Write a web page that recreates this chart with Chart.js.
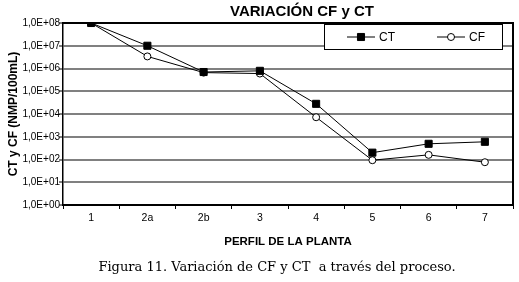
<!DOCTYPE html>
<html>
<head>
<meta charset="utf-8">
<script src="https://cdn.jsdelivr.net/npm/chart.js@4"></script>
<style>
  html, body { margin: 0; padding: 0; background: #fff; }
  #wrap { width: 519px; height: 282px; }
</style>
</head>
<body>
<div id="wrap"><canvas id="chart"></canvas></div>
<script>
 // Data
 const categories = ['1', '2a', '2b', '3', '4', '5', '6', '7'];
 const ctValues = [1e8, 1.0e7, 7.0e5, 7.9e5, 2.8e4, 2.0e2, 4.9e2, 6.0e2];
 const cfValues = [1e8, 3.4e6, 6.6e5, 6.0e5, 7.2e3, 9.3e1, 1.6e2, 7.6e1];
 const yTicks = [1e0, 1e1, 1e2, 1e3, 1e4, 1e5, 1e6, 1e7, 1e8];

 const sans = "'Liberation Sans', Arial, sans-serif";

 // Plot frame, title, caption and the boxed legend inside the plot
 const extras = {
     id: 'extras',
     afterDatasetsDraw(chart) {
         const ctx = chart.ctx;
         const a = chart.chartArea;
         ctx.save();
         ctx.strokeStyle = '#000';
         ctx.lineWidth = 2;
         ctx.beginPath();
         ctx.moveTo(a.left, a.top);
         ctx.lineTo(a.right, a.top);
         ctx.lineTo(a.right, a.bottom);
         ctx.stroke();

         // legend box
         const bx = 324.5, by = 24.5, bw = 178, bh = 25;
         ctx.fillStyle = '#fff';
         ctx.fillRect(bx, by, bw, bh);
         ctx.lineWidth = 1;
         ctx.strokeRect(bx, by, bw, bh);
         const cy = by + bh / 2;
         chart.data.datasets.forEach((ds, i) => {
             const x0 = i === 0 ? 347 : 437;
             ctx.strokeStyle = '#000';
             ctx.lineWidth = 1;
             ctx.beginPath();
             ctx.moveTo(x0, cy);
             ctx.lineTo(x0 + 28, cy);
             ctx.stroke();
             ctx.fillStyle = ds.pointBackgroundColor;
             ctx.strokeStyle = ds.pointBorderColor;
             ctx.lineWidth = ds.pointBorderWidth;
             Chart.helpers.drawPoint(ctx, {
                 pointStyle: ds.pointStyle,
                 radius: ds.pointRadius,
                 rotation: 0,
                 borderWidth: ds.pointBorderWidth
             }, x0 + 14, cy);
             ctx.fillStyle = '#000';
             ctx.font = '12px ' + sans;
             ctx.textAlign = 'left';
             ctx.textBaseline = 'middle';
             ctx.fillText(ds.label, x0 + 32, cy + 0.5);
         });

         // chart title and figure caption
         ctx.fillStyle = '#000';
         ctx.textAlign = 'center';
         ctx.textBaseline = 'middle';
         ctx.font = 'bold 15px ' + sans;
         ctx.fillText('VARIACIÓN CF y CT', 302, 12);
         ctx.font = "13px 'DejaVu Serif', serif";
         ctx.fillText('Figura 11. Variación de CF y CT  a través del proceso.', 277, 268);
         ctx.restore();
     }
 };

 const ctx = document.getElementById('chart').getContext('2d');
 const myChart = new Chart(ctx, {
     type: 'line',
     data: {
         labels: categories,
         datasets: [
             {
                 label: 'CT',
                 data: ctValues,
                 borderColor: '#000',
                 borderWidth: 1,
                 pointStyle: 'rect',
                 pointRadius: 5,
                 pointBackgroundColor: '#000',
                 pointBorderColor: '#000',
                 pointBorderWidth: 1,
                 tension: 0
             },
             {
                 label: 'CF',
                 data: cfValues,
                 borderColor: '#000',
                 borderWidth: 1,
                 pointStyle: 'circle',
                 pointRadius: 3.5,
                 pointBackgroundColor: '#fff',
                 pointBorderColor: '#000',
                 pointBorderWidth: 1,
                 tension: 0
             }
         ]
     },
     options: {
         responsive: true,
         maintainAspectRatio: false,
         animation: false,
         layout: { padding: { top: 23, right: 2, bottom: 32, left: 0 } },
         plugins: {
             legend: { display: false },
             title: { display: false },
             tooltip: { enabled: false }
         },
         scales: {
             x: {
                 type: 'category',
                 offset: true,
                 afterFit: (s) => { s.height = 45; },
                 grid: {
                     offset: true,
                     drawOnChartArea: false,
                     tickLength: 4,
                     color: '#000'
                 },
                 border: { color: '#000', width: 2 },
                 ticks: { color: '#000', padding: 3, font: { family: sans, size: 10.5 } },
                 title: {
                     display: true,
                     text: 'PERFIL DE LA PLANTA',
                     color: '#000',
                     font: { family: sans, size: 11.5, weight: 'bold' },
                     padding: { top: 0, bottom: 1.5 }
                 }
             },
             y: {
                 type: 'logarithmic',
                 min: 1,
                 max: 1e8,
                 afterFit: (s) => { s.width = 63; },
                 afterBuildTicks: (axis) => {
                     axis.ticks = yTicks.map(v => ({ value: v }));
                 },
                 grid: {
                     color: '#808080',
                     lineWidth: 2,
                     tickLength: 4,
                     tickColor: '#000',
                     tickWidth: 1
                 },
                 border: { color: '#000', width: 1.5 },
                 ticks: {
                     color: '#000',
                     padding: -1,
                     font: { family: sans, size: 10 },
                     callback: (v) => {
                         const e = Math.round(Math.log10(v));
                         return '1,0E+' + String(e).padStart(2, '0');
                     }
                 },
                 title: {
                     display: true,
                     text: 'CT y CF (NMP/100mL)',
                     color: '#000',
                     font: { family: sans, size: 12, weight: 'bold' },
                     padding: { top: 6, bottom: 0 }
                 }
             }
         }
     },
     plugins: [extras]
 });
</script>
</body>
</html>
